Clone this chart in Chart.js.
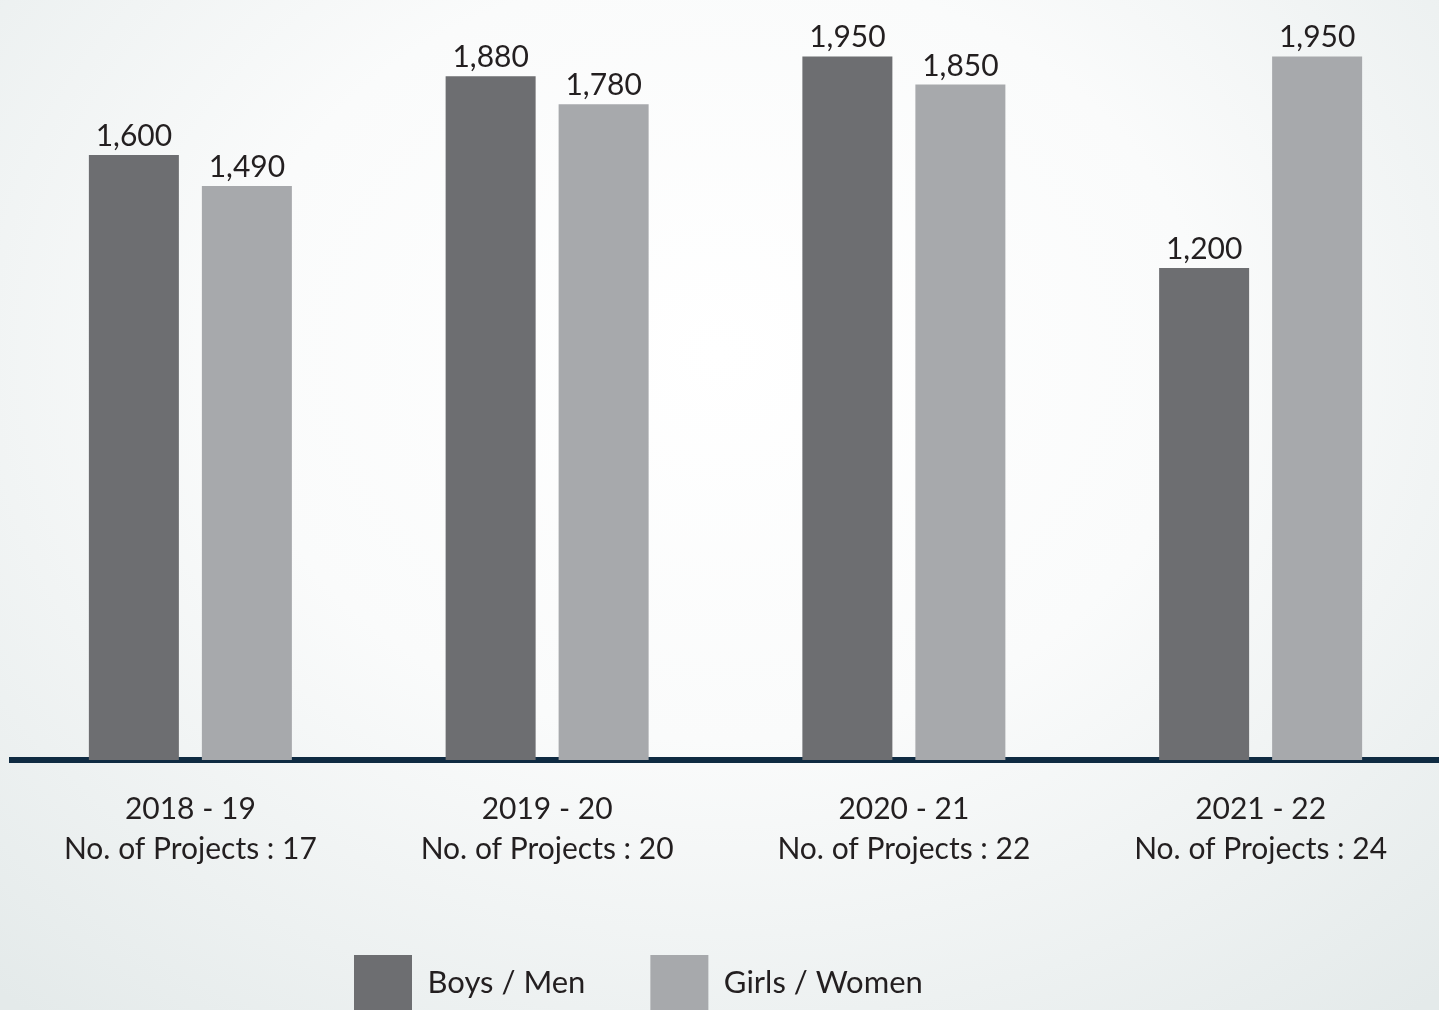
<!DOCTYPE html>
<html><head><meta charset="utf-8">
<script src="https://cdn.jsdelivr.net/npm/chart.js@4.4.0/dist/chart.umd.min.js"></script>
<style>
html,body{margin:0;padding:0;}
body{width:1439px;height:1010px;overflow:hidden;background:radial-gradient(ellipse 75% 85% at 50% 35%, #ffffff 0%, #fafbfb 45%, #e4eaea 100%);}
#wrap{position:relative;width:1439px;height:1010px;}
</style></head><body>
<div id="wrap"><canvas id="c"></canvas></div>
<script>
const years = ['2018 - 19','2019 - 20','2020 - 21','2021 - 22'];
const projectCounts = [17,20,22,24];
const boysMen = [1600,1880,1950,1200];
const girlsWomen = [1490,1780,1850,1950];
const seriesNames = ['Boys / Men','Girls / Women'];

const labels = years.map((y,i)=>[y, 'No. of Projects : ' + projectCounts[i]]);
const AXIS_MIN = -545, AXIS_MAX = 2150;
const TEXT = '#231f20';
const FONT = 'Lato, "Open Sans", sans-serif';

const valueLabels = {
  id:'valueLabels',
  afterDatasetsDraw(chart){
    const ctx = chart.ctx;
    ctx.save();
    ctx.font = '30px ' + FONT;
    ctx.fillStyle = TEXT;
    ctx.textAlign='center'; ctx.textBaseline='alphabetic';
    chart.data.datasets.forEach((ds,di)=>{
      chart.getDatasetMeta(di).data.forEach((bar,i)=>{
        ctx.fillText(ds.data[i].toLocaleString('en-US'), bar.x, bar.y - 9);
      });
    });
    ctx.restore();
  }
};
const legendShift = {
  id:'legendShift',
  afterUpdate(chart){
    const lg = chart.legend;
    if(!lg || !lg.lineWidths) return;
    const pad = lg.options.labels.padding;
    const start = (lg.left + pad + lg.right - lg.lineWidths[0])/2;
    const d = 354 - start;
    lg.left += d; lg.right += d;
  }
};

new Chart(document.getElementById('c'), {
  type:'bar',
  data:{
    labels: labels,
    datasets:[
      {label:seriesNames[0], data:boysMen, backgroundColor:'#6d6e71', base:AXIS_MIN, barPercentage:0.7965, categoryPercentage:0.6335},
      {label:seriesNames[1], data:girlsWomen, backgroundColor:'#a7a9ac', base:AXIS_MIN, barPercentage:0.7965, categoryPercentage:0.6335}
    ]
  },
  options:{
    responsive:true, maintainAspectRatio:false, animation:false,
    layout:{padding:{left:12,right:0,top:0,bottom:-10}},
    scales:{
      x:{
        grid:{display:false, drawTicks:false},
        border:{display:true, color:'#0f2b42', width:6},
        ticks:{color:TEXT, font:{family:FONT, size:30, lineHeight:1.33}, padding:29, maxRotation:0, autoSkip:false},
        afterFit(s){ s.height = 130; }
      },
      y:{display:false, min:AXIS_MIN, max:AXIS_MAX}
    },
    plugins:{
      legend:{position:'bottom', labels:{boxWidth:58, boxHeight:55, padding:65, color:TEXT, font:{family:FONT, size:31}}},
      tooltip:{enabled:false}
    }
  },
  plugins:[valueLabels, legendShift]
});
</script>
</body></html>
